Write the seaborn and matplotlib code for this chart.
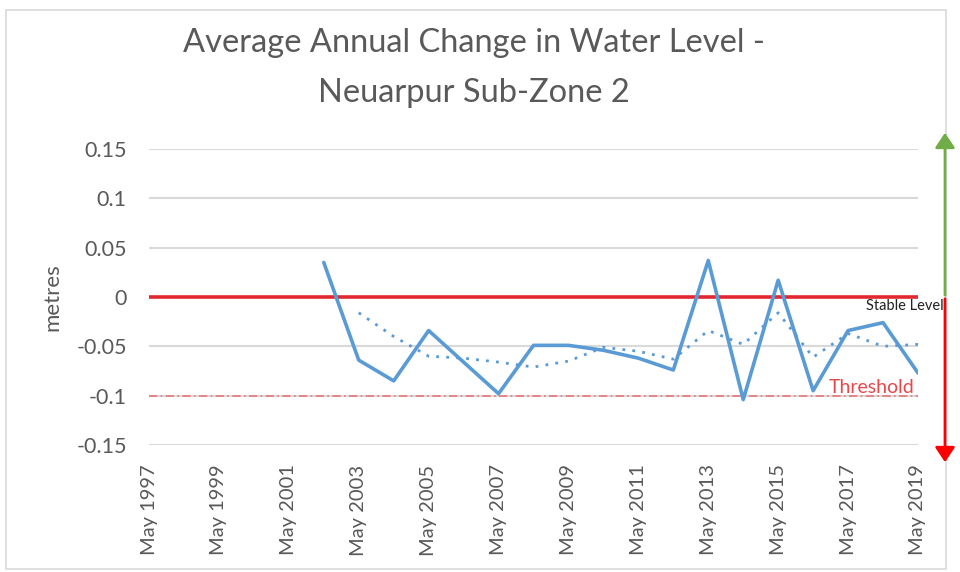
import numpy as np
import pandas as pd
import matplotlib
matplotlib.use("Agg")
import matplotlib.pyplot as plt
from matplotlib.patches import Rectangle, FancyArrowPatch
import seaborn as sns

categories = ["May 1997", "May 1998", "May 1999", "May 2000", "May 2001", "May 2002",
              "May 2003", "May 2004", "May 2005", "May 2006", "May 2007", "May 2008",
              "May 2009", "May 2010", "May 2011", "May 2012", "May 2013", "May 2014",
              "May 2015", "May 2016", "May 2017", "May 2018", "May 2019"]
change = [np.nan, np.nan, np.nan, np.nan, np.nan, 0.035,
          -0.064, -0.085, -0.034, -0.066, -0.098, -0.049,
          -0.049, -0.054, -0.062, -0.074, 0.037, -0.104,
          0.017, -0.095, -0.034, -0.026, -0.077]
moving_avg = [np.nan, np.nan, np.nan, np.nan, np.nan, np.nan,
              -0.016, -0.040, -0.060, -0.062, -0.066, -0.071,
              -0.065, -0.051, -0.055, -0.063, -0.034, -0.048,
              -0.016, -0.061, -0.037, -0.050, -0.048]
stable_level = 0.0
threshold = -0.1
y_ticks = [-0.15, -0.1, -0.05, 0, 0.05, 0.1, 0.15]
y_tick_labels = ["-0.15", "-0.1", "-0.05", "0", "0.05", "0.1", "0.15"]

df = pd.DataFrame({"idx": np.arange(len(categories)), "cat": categories,
                   "change": change, "ma": moving_avg})

sns.set_style("white")
plt.rcParams["font.family"] = ["Lato", "DejaVu Sans"]

W, H = 960, 572
fig = plt.figure(figsize=(9.6, 5.72), dpi=100)
ax = fig.add_axes([149 / W, 1 - 445 / H, 769 / W, 296 / H])

grey_txt = "#595959"
for yv in y_ticks:
    ax.axhline(yv, color="#d9d9d9", lw=1.5, zorder=0)

ax.axhline(threshold, color="#e8777a", lw=1.2, ls=(0, (5, 2, 1, 2)), zorder=1)
ax.axhline(stable_level, color="#e0282e", lw=2.6, zorder=2)

sns.lineplot(data=df, x="idx", y="ma", ax=ax, color="#5b9bd5", lw=2.0,
             linestyle=(0, (1, 2.6)), zorder=3)
sns.lineplot(data=df, x="idx", y="change", ax=ax, color="#5b9bd5", lw=2.6, zorder=4)

ax.set_xlim(0, len(categories) - 1)
ax.set_ylim(-0.15, 0.15)
ax.set_yticks(y_ticks)
ax.set_yticklabels(y_tick_labels, color=grey_txt, fontsize=15.5)
xt = list(range(0, len(categories), 2))
ax.set_xticks(xt)
ax.set_xticklabels([categories[i] for i in xt], rotation=90, color=grey_txt, fontsize=14.5)
ax.tick_params(axis="y", length=0, pad=16)
ax.tick_params(axis="x", length=0, pad=14)
ax.set_xlabel("")
ax.set_ylabel("metres", color=grey_txt, fontsize=16)
ax.yaxis.set_label_coords(-0.113, 0.5)
for s in ax.spines.values():
    s.set_visible(False)

ax.text(21.9, -0.092, "Threshold", color="#e8474a", fontsize=14, ha="right", va="center")
ax.text(20.5, -0.002, "Stable Level", color="#222222", fontsize=10.5, ha="left", va="top",
        clip_on=False)

fig.text(474 / W, 1 - 68 / H, "Average Annual Change in Water Level -\nNeuarpur Sub-Zone 2",
         ha="center", va="center", fontsize=23.5, color=grey_txt, linespacing=1.8,
         multialignment="center")

# frame
fig.patches.append(Rectangle((6 / W, 1 - 569 / H), 940 / W, 559 / H, transform=fig.transFigure,
                             fill=False, edgecolor="#d9d9d9", lw=1.2))

# arrows
fig.patches.append(FancyArrowPatch(
    (945 / W, 1 - 298 / H), (945 / W, 1 - 130 / H), transform=fig.transFigure,
    arrowstyle="-|>,head_length=6,head_width=4", color="#70ad47", lw=2, mutation_scale=1.5))
fig.patches.append(FancyArrowPatch(
    (945 / W, 1 - 296 / H), (945 / W, 1 - 465 / H), transform=fig.transFigure,
    arrowstyle="-|>,head_length=6,head_width=4", color="#ff0000", lw=2, mutation_scale=1.5))

fig.savefig("out.png", dpi=100, facecolor="white")
